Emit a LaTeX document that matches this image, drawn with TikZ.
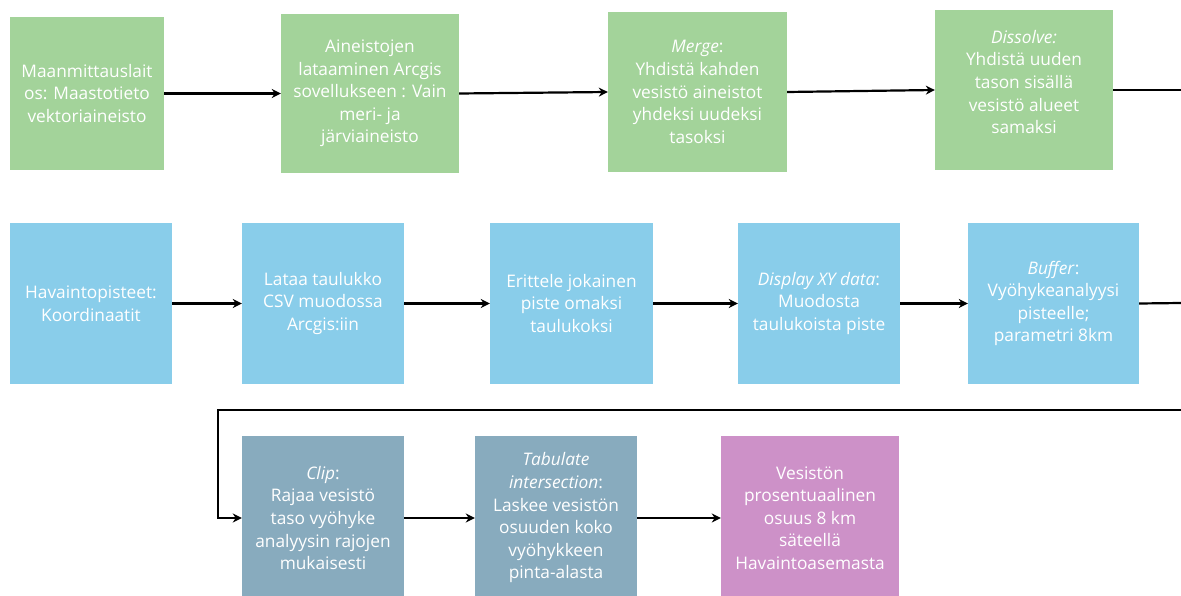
\documentclass[tikz,border=0pt]{standalone}
\usepackage{fontspec}
\setmainfont{Open Sans}
\usetikzlibrary{arrows.meta}
\definecolor{gbox}{HTML}{A3D39A}
\definecolor{bbox}{HTML}{89CDEA}
\definecolor{sbox}{HTML}{88ABBE}
\definecolor{pbox}{HTML}{CD91C8}
\tikzset{
  box/.style={draw=none, rectangle, inner sep=0pt, text=white, align=center,
    font=\fontsize{17.3}{22.6}\selectfont},
  arr/.style={line width=2.2pt, -{Stealth[length=9pt,width=9pt]}},
  ln/.style={line width=2.2pt},
}
\begin{document}
\begin{tikzpicture}[x=1pt,y=-1pt]
\useasboundingbox (0,0) rectangle (1181,596);
% row 1
\node[box, fill=gbox, minimum width=154, minimum height=153] (a1) at (87,93.5)
  {Maanmittauslait\\os: Maastotieto\\vektoriaineisto};
\node[box, fill=gbox, minimum width=178, minimum height=159] (a2) at (370,93.5)
  {Aineistojen\\lataaminen Arcgis\\sovellukseen : Vain\\meri- ja\\järviaineisto};
\node[box, fill=gbox, minimum width=179, minimum height=160] (a3) at (697.5,92)
  {\textit{Merge}:\\Yhdistä kahden\\vesistö aineistot\\yhdeksi uudeksi\\tasoksi};
\node[box, fill=gbox, minimum width=178, minimum height=160] (a4) at (1024,90) {};
\node[box] (a4t) at ([yshift=8pt]a4.center)
  {\textit{Dissolve:}\\Yhdistä uuden\\tason sisällä\\vesistö alueet\\samaksi};
\coordinate (e1) at (1181,90);
% row 2
\node[box, fill=bbox, minimum width=162, minimum height=161] (b1) at (91,303.5)
  {Havaintopisteet:\\Koordinaatit};
\node[box, fill=bbox, minimum width=162, minimum height=161] (b2) at (323,303.5)
  {Lataa taulukko\\CSV muodossa\\Arcgis:iin};
\node[box, fill=bbox, minimum width=163, minimum height=161] (b3) at (571.5,303.5)
  {Erittele jokainen\\piste omaksi\\taulukoksi};
\node[box, fill=bbox, minimum width=162, minimum height=161] (b4) at (819,303.5)
  {\textit{Display XY data}:\\Muodosta\\taulukoista piste};
\node[box, fill=bbox, minimum width=171, minimum height=161] (b5) at (1053.5,303.5)
  {\textit{Buffer}:\\Vyöhykeanalyysi\\pisteelle;\\parametri 8km};
\coordinate (e2) at (1181,303);
% row 3
\node[box, fill=sbox, minimum width=162, minimum height=164] (c1) at (323,518)
  {\textit{Clip}:\\Rajaa vesistö\\taso vyöhyke\\analyysin rajojen\\mukaisesti};
\node[box, fill=sbox, minimum width=162, minimum height=164] (c2) at (556,518)
  {\textit{Tabulate}\\\textit{intersection}:\\Laskee vesistön\\osuuden koko\\vyöhykkeen\\pinta-alasta};
\node[box, fill=pbox, minimum width=178, minimum height=164] (c3) at (810,518)
  {Vesistön\\prosentuaalinen\\osuus 8 km\\säteellä\\Havaintoasemasta};
\coordinate (r0) at (1181,410);
\coordinate (r1) at (218,410);
% connectors
\draw[arr] (a1) -- (a2);
\draw[arr] (a2.east) -- (a3.west);
\draw[arr] (a3.east) -- (a4.west);
\draw[ln] (a4.east) -- (e1);
\draw[arr] (b1) -- (b2);
\draw[arr] (b2) -- (b3);
\draw[arr] (b3) -- (b4);
\draw[arr] (b4) -- (b5);
\draw[ln] (b5.east) -- (e2);
\draw[arr] (r0) -- (r1) |- (c1.west);
\draw[arr] (c1.east) -- (c2.west);
\draw[arr] (c2.east) -- (c3.west);
\end{tikzpicture}
\end{document}
